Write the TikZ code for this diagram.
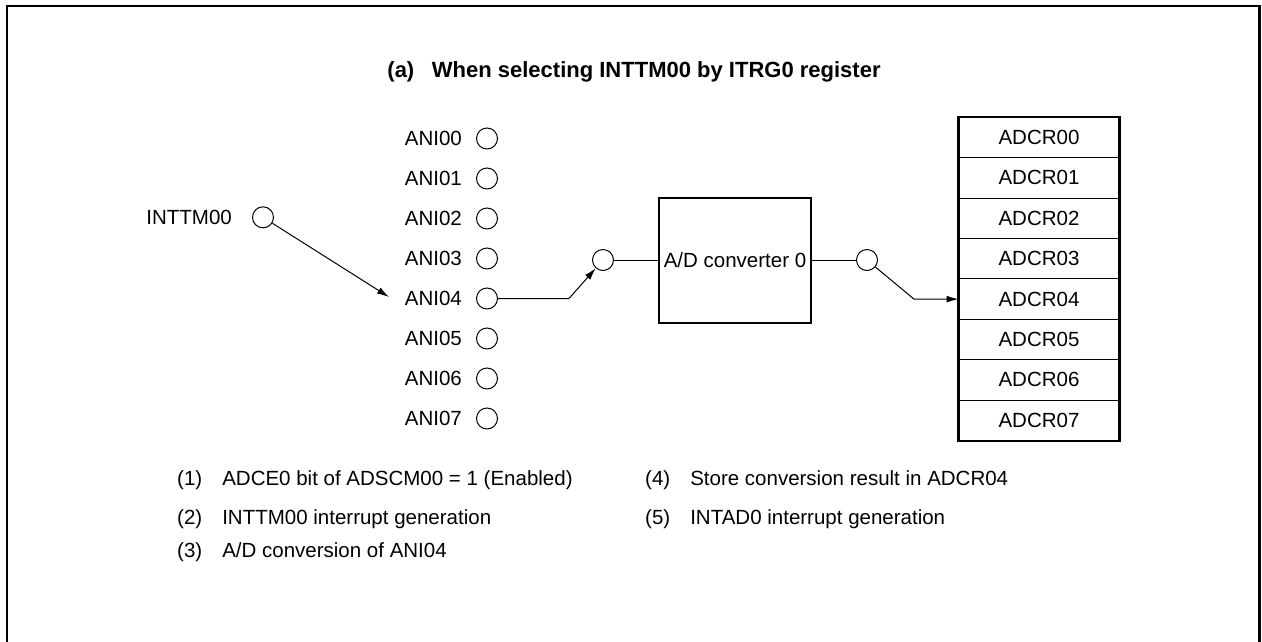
\documentclass[tikz,border=0pt]{standalone}
\usepackage{fontspec}
\setmainfont{Liberation Sans}
\usetikzlibrary{arrows.meta}
\begin{document}
\begin{tikzpicture}[x=1pt,y=-1pt,
  lbl/.style={font=\fontsize{20.5}{24}\selectfont, inner sep=0pt},
  port/.style={circle, draw, line width=1pt, minimum size=21pt, inner sep=0pt},
  wire/.style={line width=1pt},
  arr/.style={line width=1pt, -{Latex[length=12pt,width=7pt]}},
  reg/.style={draw, line width=1pt, minimum width=160pt, minimum height=40.4pt, inner sep=0pt, font=\fontsize{20.5}{24}\selectfont},
  note/.style={font=\fontsize{20.5}{24}\selectfont, anchor=base west, inner sep=0pt},
  thick frame/.style={draw, line width=2.5pt}
]
\useasboundingbox (0,0) rectangle (1262,641);
\draw[line width=2.5pt] (7,660) -- (7,6) -- (1259.5,6) -- (1259.5,660);

\node[font=\bfseries\fontsize{22}{26}\selectfont, anchor=base, inner sep=0pt] (title) at (634,77)
  {(a)\hspace{0.8em}When selecting INTTM00 by ITRG0 register};

\foreach \i in {0,...,7} {
  \node[port] (c\i) at (487, 138.5+40*\i) {};
  \node[lbl, anchor=east] (a\i) at (462, 138.5+40*\i) {ANI0\i};
}

\node[port] (it) at (263,217.3) {};
\node[lbl, anchor=east] (itl) at (232,217.3) {INTTM00};
\coordinate (tip) at (389,297);
\draw[arr] (it) -- (tip);

\node[port] (inp) at (603,260) {};
\coordinate (k1) at (569,298.5);
\draw[arr] (c4) -- (k1) -- (inp);

\node[thick frame, minimum width=152pt, minimum height=125pt, lbl] (adc) at (735,260.5) {A/D converter 0};
\draw[wire] (inp) -- (inp -| adc.west);

\node[port] (outp) at (867,260) {};
\draw[wire] (outp -| adc.east) -- (outp);

\foreach \i in {0,...,7} {
  \node[reg] (r\i) at (1039, 137.5+40.4*\i) {ADCR0\i};
}
\draw[line width=2.5pt] (r0.north west) rectangle (r7.south east);

\coordinate (k2) at (914,299.1);
\draw[arr] (outp) -- (k2) -- (r4.west);

\node[note] (n1) at (177,485.5) {\makebox[2.2em][l]{(1)}ADCE0 bit of ADSCM00 = 1 (Enabled)};
\node[note] (n2) at (177,524.5) {\makebox[2.2em][l]{(2)}INTTM00 interrupt generation};
\node[note] (n3) at (177,557.5) {\makebox[2.2em][l]{(3)}A/D conversion of ANI04};
\node[note] (n4) at (645,485.5) {\makebox[2.2em][l]{(4)}Store conversion result in ADCR04};
\node[note] (n5) at (645,524.5) {\makebox[2.2em][l]{(5)}INTAD0 interrupt generation};
\end{tikzpicture}
\end{document}
